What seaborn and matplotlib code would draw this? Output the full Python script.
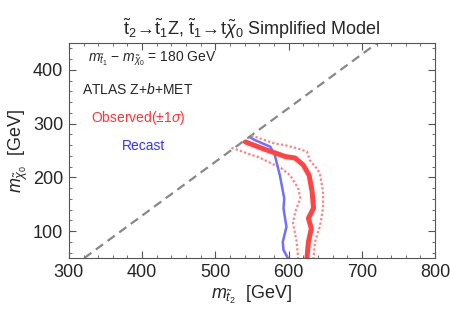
import numpy as np
import pandas as pd
import matplotlib
matplotlib.use('Agg')
import matplotlib.pyplot as plt
from matplotlib.ticker import MultipleLocator
import seaborn as sns

# observed exclusion contour and +-1 sigma band, plus recast
obs_x = [541, 568, 595, 609, 620, 628, 632, 634, 627, 631, 627, 625]
obs_y = [266, 252, 239, 236, 223, 204, 174, 143, 124, 105, 80, 50]
up_x = [549, 581, 595, 609, 625, 629, 640, 643, 647, 647, 643, 636, 634]
up_y = [278, 263, 260, 255, 248, 232, 214, 204, 174, 143, 111, 80, 50]
lo_x = [522, 560, 590, 602, 613, 616, 609, 606, 611, 613]
lo_y = [255, 237, 217, 204, 180, 161, 136, 115, 80, 50]
rec_x = [547, 553, 575, 581, 588, 594, 593, 597, 592, 593, 599]
rec_y = [275, 270, 257, 242, 204, 161, 142, 108, 80, 65, 50]
diag_x = [321, 721]
diag_y = [50, 450]

sns.set_style('ticks')
plt.rcParams['font.family'] = ['Liberation Sans', 'DejaVu Sans']
plt.rcParams['mathtext.fontset'] = 'custom'
plt.rcParams['mathtext.rm'] = 'Liberation Sans'
plt.rcParams['mathtext.it'] = 'Liberation Sans:italic'

fig, ax = plt.subplots(figsize=(4.5, 3.23), dpi=100)
fig.subplots_adjust(left=0.153, right=0.967, bottom=0.201, top=0.867)

sns.lineplot(x=diag_x, y=diag_y, ax=ax, color='#888888', lw=1.6,
             linestyle=(0, (4, 2.5)), sort=False, estimator=None)
sns.lineplot(x=up_x, y=up_y, ax=ax, color='#FF8080', lw=1.6,
             linestyle=(0, (1, 1)), sort=False, estimator=None)
sns.lineplot(x=lo_x, y=lo_y, ax=ax, color='#FF8080', lw=1.6,
             linestyle=(0, (1, 1)), sort=False, estimator=None)
sns.lineplot(x=rec_x, y=rec_y, ax=ax, color='#7070FF', lw=1.8,
             sort=False, estimator=None)
sns.lineplot(x=obs_x, y=obs_y, ax=ax, color='#FF4444', lw=3.6,
             sort=False, estimator=None)

ax.set_xlim(300, 800)
ax.set_ylim(50, 450)
ax.xaxis.set_major_locator(MultipleLocator(100))
ax.xaxis.set_minor_locator(MultipleLocator(20))
ax.yaxis.set_major_locator(MultipleLocator(100))
ax.yaxis.set_minor_locator(MultipleLocator(20))
ax.tick_params(which='both', direction='in', top=True, right=True,
               color='#555555', labelsize=13, pad=4)
ax.tick_params(which='major', length=5, width=0.8)
ax.tick_params(which='minor', length=2.5, width=0.6)
for s in ax.spines.values():
    s.set_color('#555555')
    s.set_linewidth(0.8)

ax.set_xlabel(r'$m_{\tilde{t}_2}$  [GeV]', fontsize=13, labelpad=2)
ax.set_ylabel(r'$m_{\tilde{\chi}_0}$  [GeV]', fontsize=13, labelpad=2)
ax.set_title(r'$\mathrm{\tilde{t}_2\!\rightarrow\!\tilde{t}_1}$Z, '
             r'$\mathrm{\tilde{t}_1\!\rightarrow\!t}\tilde{\chi}_0$ Simplified Model',
             fontsize=13, pad=6)

ax.text(326, 420, r'$m_{\tilde{t}_1}$ $-$ $m_{\tilde{\chi}_0}$ = 180 GeV',
        fontsize=10, va='center')
ax.text(318, 363, r'ATLAS Z+$b$+MET', fontsize=10, va='center')
ax.text(330, 310, r'Observed($\pm$1$\sigma$)', fontsize=10, va='center',
        color='#FF3333')
ax.text(372, 258, 'Recast', fontsize=10, va='center', color='#3333FF')

plt.savefig('out.png', dpi=100)
